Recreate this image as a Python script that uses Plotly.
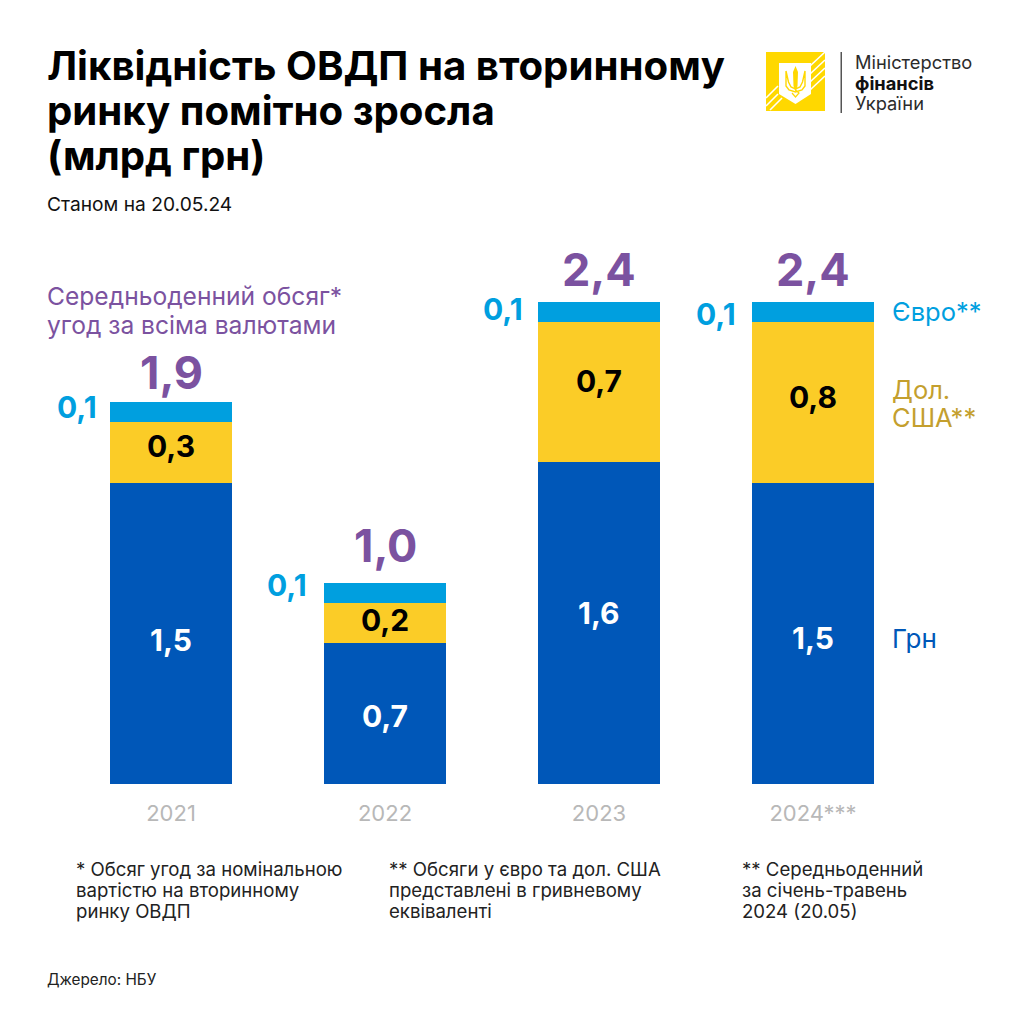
import plotly.graph_objects as go

# Daily average trading volume by currency, UAH bn
years = ["2021", "2022", "2023", "2024***"]
uah = [1.5, 0.7, 1.6, 1.5]
usd = [0.3, 0.2, 0.7, 0.8]
eur = [0.1, 0.1, 0.1, 0.1]
totals = [1.9, 1.0, 2.4, 2.4]

BLUE = "#0057B8"
YELLOW = "#FBCC27"
SKY = "#009FDF"
PURPLE = "#7B52A0"
GOLD = "#C49F2E"
INK = "#111111"
FONT = "Inter"

SIZE = 1024
BASE_PX = 784
PX_PER_UNIT = 201
CENTER_PX = 171
STEP_PX = 214
BAR_PX = 122


def comma(v):
    return f"{v:.1f}".replace(".", ",")


def px(x):
    return x / SIZE


def py(y):
    return 1 - y / SIZE


fig = go.Figure()
for values, color in [(uah, BLUE), (usd, YELLOW), (eur, SKY)]:
    fig.add_trace(go.Bar(
        x=list(range(len(years))),
        y=values,
        width=BAR_PX / STEP_PX,
        marker=dict(color=color, line_width=0),
        hoverinfo="skip",
        showlegend=False,
    ))

annotations = []


def note(x, y, text, size, color=INK, weight=400, anchor="left"):
    """Place free text by pixel position on the page."""
    annotations.append(dict(
        xref="paper", yref="paper", x=px(x), y=py(y), text=text, showarrow=False,
        xanchor=anchor, yanchor="middle", align=anchor,
        font=dict(family=FONT, size=size, color=color, weight=weight),
        borderpad=0, borderwidth=0,
    ))


# Heading block
note(47, 65, "Ліквідність ОВДП на вторинному", 40.2, "#000000", 700)
note(47, 110, "ринку помітно зросла", 40.2, "#000000", 700)
note(47, 155, "(млрд грн)", 40.2, "#000000", 700)
note(47, 204, "Станом на 20.05.24", 19.2, INK)

# Value labels on and around each stack
total_y = [372, 545, 269, 269]
eur_y = [407, 585, 309, 314]
eur_right = [97, 307, 523, 736]
uah_y = [640, 716, 613, 638]
usd_y = [446, 620, 381, 397]
for i in range(len(years)):
    c = CENTER_PX + STEP_PX * i
    note(c, total_y[i], comma(totals[i]), 45, PURPLE, 700, "center")
    note(eur_right[i], eur_y[i], comma(eur[i]), 30, SKY, 700, "right")
    note(c, uah_y[i], comma(uah[i]), 30, "white", 700, "center")
    note(c, usd_y[i], comma(usd[i]), 30, "black", 700, "center")

# Series captions
note(47, 296, "Середньоденний обсяг*", 24.6, PURPLE)
note(47, 325, "угод за всіма валютами", 24.6, PURPLE)
note(892, 311, "Євро**", 25.5, SKY)
note(892, 389, "Дол.", 25.5, GOLD)
note(892, 417, "США**", 25.5, GOLD)
note(892, 638, "Грн", 26, BLUE)

# Footnotes
for x, lines in [
    (76, ["* Обсяг угод за номінальною", "вартістю на вторинному", "ринку ОВДП"]),
    (389, ["** Обсяги у євро та дол. США", "представлені в гривневому", "еквіваленті"]),
    (742, ["** Середньоденний", "за січень-травень", "2024 (20.05)"]),
]:
    for k, line in enumerate(lines):
        note(x, 869 + 21 * k, line, 18.6, "#222222")
note(47, 979, "Джерело: НБУ", 15.3, "#222222")

# Ministry wordmark
note(855, 62, "Міністерство", 18.3, "#2b2b2b")
note(855, 83, "фінансів", 18.3, "#111111", 700)
note(855, 103, "України", 18.3, "#2b2b2b")

shapes = [
    dict(type="rect", xref="paper", yref="paper", x0=px(840.5), x1=px(842), y0=py(52), y1=py(113),
         fillcolor="#555555", line_width=0),
    dict(type="rect", xref="paper", yref="paper", x0=px(766), x1=px(825), y0=py(52), y1=py(111),
         fillcolor="#FFD800", line_width=0),
]


def poly(points, fill=None, stroke=None, w=1.5):
    path = "M" + " L".join(f"{px(a):.5f},{py(b):.5f}" for a, b in points)
    if fill:
        path += " Z"
    shapes.append(dict(type="path", xref="paper", yref="paper", path=path,
                       fillcolor=fill or "rgba(0,0,0,0)",
                       line=dict(color=stroke or "rgba(0,0,0,0)", width=w)))


# Diagonal stripes, shield and trident of the emblem
for a, b in [((766, 98), (778, 86)), ((766, 106), (778, 94)), ((770, 110), (782, 98)),
             ((810, 66), (825, 52)), ((810, 74), (825, 60)), ((810, 82), (825, 68)),
             ((810, 90), (825, 76))]:
    poly([a, b], stroke="white", w=1.6)
poly([(779, 63), (811, 63), (811, 94), (795.5, 104), (779, 94)], fill="white")
poly([(795.5, 66), (793, 72), (793.5, 86), (795.5, 92), (797.5, 86), (798, 72)], fill="#FFD800")
poly([(786, 71), (786, 86), (789, 90), (795.5, 92), (802, 90), (805, 86), (805, 71), (802.5, 82),
      (800, 87), (795.5, 89), (791, 87), (788.5, 82), (786, 71)], stroke="#FFD800", w=1.4)
poly([(792, 93), (795.5, 97), (799, 93), (795.5, 90)], stroke="#FFD800", w=1.2)

fig.update_layout(
    width=SIZE, height=SIZE, autosize=False,
    margin=dict(l=0, r=0, t=0, b=0, pad=0),
    paper_bgcolor="white", plot_bgcolor="white",
    barmode="stack",
    annotations=annotations, shapes=shapes,
    xaxis=dict(
        domain=[0, 1],
        range=[-CENTER_PX / STEP_PX, (SIZE - CENTER_PX) / STEP_PX],
        tickmode="array", tickvals=list(range(len(years))), ticktext=years,
        tickfont=dict(family=FONT, size=22, color="#B8B8B8"),
        ticks="outside", ticklen=10, tickcolor="rgba(0,0,0,0)",
        showgrid=False, zeroline=False, showline=False,
    ),
    yaxis=dict(
        domain=[py(BASE_PX), 1],
        range=[0, BASE_PX / PX_PER_UNIT],
        visible=False, showgrid=False, zeroline=False,
    ),
)

fig.write_html("out.html")
